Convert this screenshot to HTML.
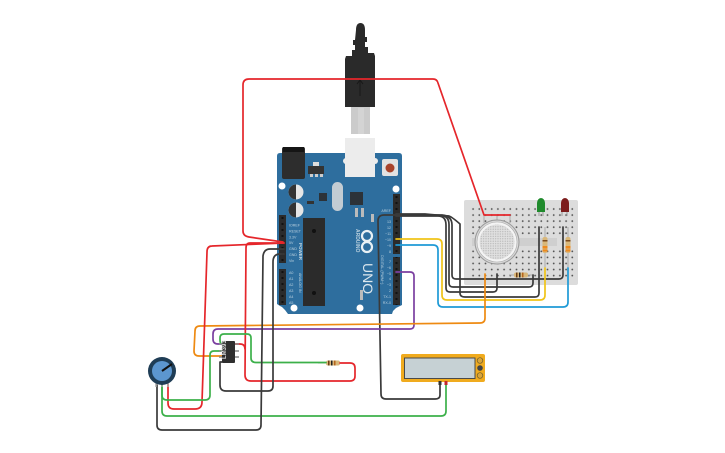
<!DOCTYPE html>
<html><head><meta charset="utf-8"><style>
html,body{margin:0;padding:0;background:#fff}
svg{display:block;filter:blur(.3px)}
text{font-family:"Liberation Sans",sans-serif}
.w{fill:none;stroke-width:1.7;stroke-linejoin:round;stroke-linecap:round}
.l text{fill:#b9d0de;font-size:3.6px}
</style></head><body>
<svg width="725" height="453" viewBox="0 0 725 453" xmlns="http://www.w3.org/2000/svg">
<defs>
<pattern id="h" x="279" y="215" width="7" height="6" patternUnits="userSpaceOnUse"><rect width="7" height="6" fill="#2b2b2b"/><rect x="2.5" y="2" width="2" height="2" fill="#111"/></pattern>
<pattern id="h2" x="393" y="194" width="7" height="6" patternUnits="userSpaceOnUse"><rect width="7" height="6" fill="#2b2b2b"/><rect x="2.5" y="2" width="2" height="2" fill="#111"/></pattern>
<pattern id="d" x="470" y="206" width="6.2" height="6.05" patternUnits="userSpaceOnUse"><circle cx="3.1" cy="3" r=".9" fill="#555"/></pattern>
<pattern id="m" x="0" y="0" width="2.4" height="2.4" patternUnits="userSpaceOnUse"><rect width="2.4" height="2.4" fill="#e0e0e0"/><circle cx="1.2" cy="1.2" r=".6" fill="#b0b0b0"/></pattern>
</defs>

<!-- breadboard -->
<rect x="464" y="200" width="114" height="85" rx="2" fill="#dcdcdc"/>
<rect x="470" y="206" width="105" height="30" fill="url(#d)"/>
<rect x="470" y="248" width="105" height="30" fill="url(#d)"/>
<rect x="472" y="238" width="85" height="8" fill="#cfcfcf"/>

<!-- usb -->
<path d="M356 30q0-7 4.500-7t4.500 7v7h2v5h-2v5h3v6h6l1 3v51h-30V59l1-3h6v-6h3v-5h-2v-5h2z" fill="#2a2a2a"/>
<rect x="351" y="107" width="19" height="27" fill="#cbcbcb"/>
<rect x="358" y="108" width="6" height="26" fill="#d4d4d4"/>
<path d="M360 80v16M357 84l3-4 3 4" stroke="#181818" fill="none"/>

<!-- board -->
<path d="M280 153H399q3 0 3 3V305l-6 3-3 3-1 3H288l-3-4-3-3-2-1-3-2V156q0-3 3-3z" fill="#2e6e9e"/>
<rect x="345" y="138" width="30" height="39" fill="#ececec"/>
<circle cx="346" cy="161" r="3" fill="#ececec"/><circle cx="375" cy="161" r="3" fill="#ececec"/>
<rect x="282" y="147" width="23" height="32" rx="2" fill="#2d2d2d"/>
<rect x="283" y="147" width="21" height="5" fill="#151515"/>
<rect x="308" y="166" width="16" height="8" fill="#333"/><rect x="313" y="162" width="6" height="4" fill="#ddd"/>
<rect x="310" y="174" width="3" height="3" fill="#ccc"/><rect x="315" y="174" width="3" height="3" fill="#ccc"/><rect x="320" y="174" width="3" height="3" fill="#ccc"/>
<rect x="382" y="159" width="16" height="17" rx="2" fill="#e2e2e2"/>
<circle cx="390" cy="168" r="4.500" fill="#a8432b"/>
<circle cx="296" cy="192" r="7.500" fill="#e6e6e6"/><path d="M296 184.500a7.500 7.500 0 0 0 0 15z" fill="#333"/>
<circle cx="296" cy="210" r="7.500" fill="#e6e6e6"/><path d="M296 202.500a7.500 7.500 0 0 0 0 15z" fill="#333"/>
<rect x="332" y="182" width="11" height="29" rx="5.500" fill="#c3ccd3"/>
<rect x="319" y="193" width="8" height="8" fill="#2c3238"/>
<rect x="350" y="192" width="13" height="13" fill="#2c3238"/>
<rect x="307" y="201" width="7" height="3" fill="#333"/>
<rect x="303" y="218" width="22" height="88" fill="#2b2b2b"/>
<circle cx="314" cy="231" r="2" fill="#111"/><circle cx="314" cy="293" r="2" fill="#111"/>
<rect x="279" y="215" width="7" height="48" fill="url(#h)"/>
<rect x="279" y="269" width="7" height="36" fill="url(#h)"/>
<rect x="393" y="194" width="7" height="60" fill="url(#h2)"/>
<rect x="393" y="257" width="7" height="48" fill="url(#h2)"/>
<circle cx="282" cy="186" r="3.500" fill="#fff"/><circle cx="396" cy="189" r="3.500" fill="#fff"/>
<circle cx="294" cy="308" r="3.500" fill="#fff"/><circle cx="360" cy="308" r="3.500" fill="#fff"/>
<rect x="355" y="208" width="3" height="9" fill="#bbb"/><rect x="361" y="208" width="3" height="9" fill="#bbb"/><rect x="371" y="214" width="3" height="8" fill="#bbb"/>
<rect x="360" y="290" width="3" height="10" fill="#bbb"/>
<g class="l">
<text x="289" y="226.500">IOREF</text><text x="289" y="232.500">RESET</text><text x="289" y="238.500">3.3V</text><text x="289" y="244">5V</text><text x="289" y="250">GND</text><text x="289" y="256">GND</text><text x="289" y="262">Vin</text>
<text x="289" y="274">A0</text><text x="289" y="280">A1</text><text x="289" y="286">A2</text><text x="289" y="292">A3</text><text x="289" y="298">A4</text><text x="289" y="304">A5</text>
<g text-anchor="end"><text x="391" y="212">AREF</text><text x="391" y="223">13</text><text x="391" y="229">12</text><text x="391" y="235">~11</text><text x="391" y="241">~10</text><text x="391" y="247">~9</text><text x="391" y="253">8</text>
<text x="391" y="263">7</text><text x="391" y="269">~6</text><text x="391" y="275">~5</text><text x="391" y="280">4</text><text x="391" y="286">~3</text><text x="391" y="292">2</text><text x="391" y="298">TX-1</text><text x="391" y="304">RX-0</text></g>
<text transform="translate(299,243) rotate(90)" style="font-size:4.500px;font-weight:bold">POWER</text>
<text transform="translate(299,273) rotate(90)" style="font-size:3.600px">ANALOG IN</text>
<text transform="translate(381,255) rotate(90)" style="font-size:3.800px">DIGITAL (PWM~)</text>
<text transform="translate(356,229) rotate(90)" style="font-size:5px;font-weight:bold">ARDUINO</text>
</g>
<text transform="translate(363,263) rotate(90)" style="font-size:14px" fill="#dbe7ee">UNO</text>
<circle cx="367" cy="236" r="5" fill="none" stroke="#e8f0f4" stroke-width="2.200"/>
<circle cx="367" cy="247" r="5" fill="none" stroke="#e8f0f4" stroke-width="2.200"/>

<!-- sensor -->
<path d="M484 215h26M484 215v8M497 215v8M510 215v8" stroke="#aaa" fill="none"/>
<circle cx="497" cy="242" r="22" fill="#d8d8d8" stroke="#9a9a9a" stroke-width="1"/>
<circle cx="497" cy="242" r="20" fill="#f4f4f4" stroke="#aaa" stroke-width=".6"/>
<circle cx="497" cy="242" r="17.500" fill="url(#m)"/>

<!-- leds -->
<path d="M539 211v5M543 211v5M562 211v5M567 211v5" stroke="#999"/>
<path d="M537 212v-9a4 5 0 0 1 8 0v9z" fill="#1f8a2c"/>
<path d="M561 212v-9a4 5 0 0 1 8 0v9z" fill="#7c1c1c"/>
<!-- resistors -->
<path d="M545 227v41M568 227v41" stroke="#aaa" stroke-width="1"/>
<rect x="542.500" y="237" width="5" height="16" rx="2" fill="#d9b779"/><rect x="542.500" y="240" width="5" height="1.500" fill="#7a4a1c"/><rect x="542.500" y="246" width="5" height="2.500" fill="#ee8a1e"/><rect x="542.500" y="249.500" width="5" height="2" fill="#ee8a1e"/>
<rect x="565.500" y="237" width="5" height="16" rx="2" fill="#d9b779"/><rect x="565.500" y="240" width="5" height="1.500" fill="#7a4a1c"/><rect x="565.500" y="246" width="5" height="2.500" fill="#ee8a1e"/><rect x="565.500" y="249.500" width="5" height="2" fill="#ee8a1e"/>
<path d="M509 275h23" stroke="#aaa"/>
<rect x="514" y="272.500" width="14" height="5" rx="2" fill="#d9b779"/><rect x="516" y="272.500" width="1.500" height="5" fill="#6b3d14"/><rect x="519" y="272.500" width="1.500" height="5" fill="#222"/><rect x="522" y="272.500" width="1.500" height="5" fill="#b5651d"/>
<path d="M318 363h26" stroke="#aaa"/>
<rect x="326" y="360.500" width="14" height="5" rx="2" fill="#d9b779"/><rect x="328" y="360.500" width="1.500" height="5" fill="#6b3d14"/><rect x="331" y="360.500" width="1.500" height="5" fill="#222"/><rect x="334" y="360.500" width="1.500" height="5" fill="#b5651d"/>

<!-- wires -->
<g class="w">
<path stroke="#3a3a3a" d="M396 214H425q10 1 24 2 3 1 11 8V293q0 4 5 4H535q4 0 4-4V227"/>
<path stroke="#3a3a3a" d="M396 215H442q10 1 10 10V275q0 4 4 4H559q4 0 4-4V227"/>
<path stroke="#3a3a3a" d="M396 215.500H440q9 0 9 9V283q0 4 4 4H529q4 0 4-4V275"/>
<path stroke="#3a3a3a" d="M396 216H438q8 0 8 9V288q0 4 4 4H493q4 0 4-4V274"/>
<path stroke="#3a3a3a" d="M396 215H384q-6 0-6 6L381 394q0 5 5 5H435q5 0 5-4V383"/>
<path stroke="#f0c419" d="M396 239H437q5 0 5 5V295q0 5 5 5H540q5 0 5-5V268"/>
<path stroke="#1e9ad6" d="M396 245H433q5 0 5 5V302q0 5 5 5H563q5 0 5-5V268"/>
<path stroke="#7b3fa0" d="M396 272H410q4 0 4 4V325q0 4-4 4H218q-5 0-5 5V339q0 5 5 5H222"/>
<path stroke="#ee8a12" d="M485 274V318q0 5-5 5L200 326q-5 0-5 5L194 351q0 5 5 5H222"/>
<path stroke="#e5262b" d="M283 242L249 237Q243 236 243 231V85Q243 79 249 79H433Q437 79 438 83L484 215H510"/>
<path stroke="#e5262b" d="M284 243L212 246Q207 246 207 252L202 402Q202 409 195 409H174Q168 409 168 403V384"/>
<path stroke="#e5262b" d="M284 243H250Q246 243 246 248L245 375Q245 381 251 381H350Q355 381 355 376V368Q355 363 350 363H340"/>
<path stroke="#e5262b" d="M235 344H240Q245 344 245 349"/>
<path stroke="#3cb04a" d="M222 344Q220 344 220 340V338Q220 334 224 334H247Q251 334 251 338V358Q251 362.500 256 362.500H326"/>
<path stroke="#3cb04a" d="M222 351H214Q210 351 210 355V395Q210 400 205 400H167Q162 400 162 395V385"/>
<path stroke="#3cb04a" d="M162 385V411Q162 416 167 416H441Q446 416 446 411V383"/>
<path stroke="#3a3a3a" d="M222 362H220V385Q220 391 226 391H268Q273 391 273 386L273 262Q273 254 280 254H284"/>
<path stroke="#3a3a3a" d="M157 385V425Q157 430 162 430H256Q261 430 261 425L263 256Q264 249 270 249H284"/>
</g>

<!-- chip -->
<path d="M219 344h4M219 351h4M219 357h4M234 344h5M234 351h5M234 357h5" stroke="#888" stroke-width="1.500"/>
<rect x="222" y="341" width="13" height="22" rx="1" fill="#2f2f2f"/>
<text transform="translate(226,359) rotate(-90)" fill="#ddd" style="font-size:6px;font-weight:bold">LM393</text>

<!-- pot -->
<path d="M156 382v5M162 382v5M168 382v5" stroke="#aaa" stroke-width="1.500"/>
<circle cx="162" cy="371" r="14" fill="#1f3d56"/>
<circle cx="162" cy="371" r="10" fill="#5c96cf"/>
<path d="M162 371L172 364" stroke="#111" stroke-width="2"/>

<!-- meter -->
<rect x="401" y="354" width="84" height="28" rx="2" fill="#f0ab1e"/>
<rect x="404.500" y="358" width="70.500" height="20.500" fill="#c6d1d4" stroke="#4a4a4a" stroke-width="1"/>
<circle cx="480" cy="360.500" r="2.800" fill="#d9a53a" stroke="#6b5a2a" stroke-width=".7"/>
<circle cx="480" cy="368" r="2.800" fill="#444"/>
<circle cx="480" cy="375.500" r="2.800" fill="#d9a53a" stroke="#6b5a2a" stroke-width=".7"/>
<rect x="438.500" y="381" width="3" height="4" fill="#333"/>
<rect x="444.500" y="381" width="3" height="4" fill="#c0272d"/>
</svg>
</body></html>
